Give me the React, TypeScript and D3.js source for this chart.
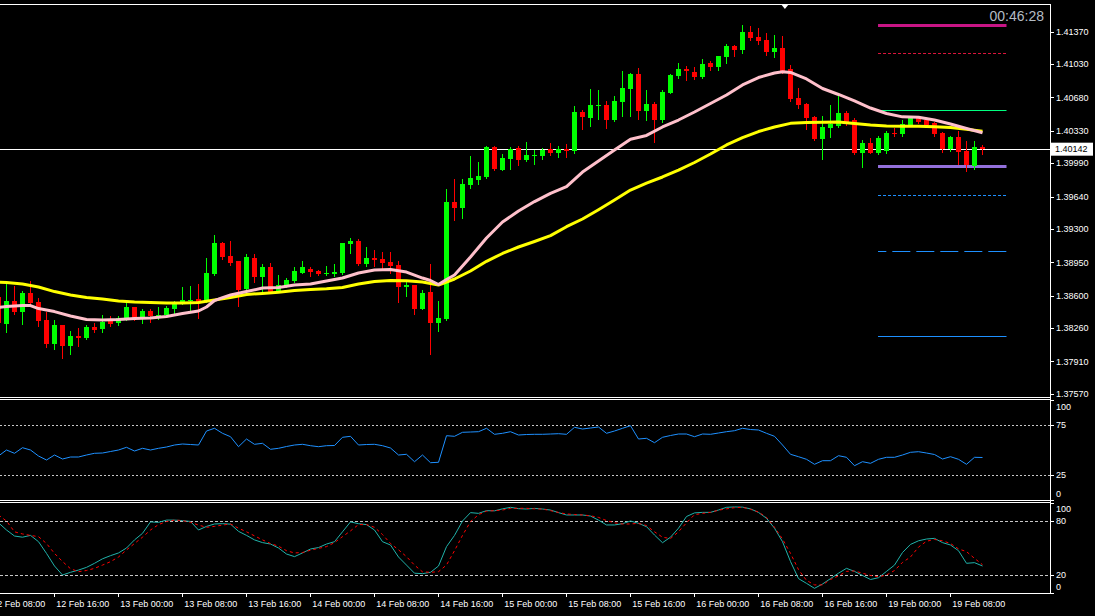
import React from "react";
import * as d3 from "d3";

// ---------- DATA ----------
const FIRST_BAR = -1; // index of first bar in the arrays (bar 0 = 12 Feb 10:00, H1)

const opens = [
  1.38584, 1.38301, 1.38543, 1.38427, 1.38627, 1.38532, 1.38343, 1.38091, 1.38291, 1.3807, 1.38175,
  1.38154, 1.3827, 1.38249, 1.38343, 1.38312, 1.38364, 1.3848, 1.38364, 1.38438, 1.3839, 1.38396,
  1.38459, 1.38532, 1.38543, 1.38564, 1.38543, 1.38826, 1.39152, 1.39015, 1.38963, 1.38669, 1.38994,
  1.38795, 1.389, 1.38648, 1.387, 1.38753, 1.38837, 1.38879, 1.38858, 1.38826, 1.38826, 1.38837,
  1.39141, 1.39173, 1.38931, 1.38994, 1.38984, 1.38952, 1.38921, 1.3869, 1.38711, 1.38459, 1.38637,
  1.38312, 1.38354, 1.39582, 1.39519, 1.39761, 1.39813, 1.39845, 1.4016, 1.39918, 1.40034, 1.40149,
  1.40023, 1.40065, 1.40065, 1.40139, 1.40097, 1.40139, 1.40118, 1.40527, 1.40464, 1.4059, 1.40601,
  1.40443, 1.40632, 1.40769, 1.40926, 1.40538, 1.40611, 1.40443, 1.40727, 1.40905, 1.40979, 1.40947,
  1.40895, 1.41042, 1.41, 1.41105, 1.4122, 1.41178, 1.41367, 1.41315, 1.41283, 1.41157, 1.41199,
  1.40979, 1.40674, 1.40611, 1.40475, 1.40244, 1.40359, 1.4038, 1.40517, 1.40443, 1.40097, 1.40202,
  1.40097, 1.40118, 1.40307, 1.40296, 1.40391, 1.40475, 1.40443, 1.40412, 1.40307, 1.40139, 1.40265,
  1.40118, 1.3996, 1.4016,
];
const highs = [
  1.38658, 1.38753, 1.387, 1.38648, 1.38753, 1.38574, 1.38427, 1.38343, 1.38296, 1.38228, 1.38259,
  1.38291, 1.38312, 1.38396, 1.38385, 1.38385, 1.38522, 1.38485, 1.38459, 1.38459, 1.3848, 1.3849,
  1.38543, 1.3869, 1.387, 1.38721, 1.38994, 1.39236, 1.39162, 1.39173, 1.38968, 1.39036, 1.39036,
  1.38931, 1.38942, 1.38816, 1.38784, 1.389, 1.38963, 1.389, 1.38868, 1.3891, 1.38931, 1.39155,
  1.39204, 1.39194, 1.3911, 1.39078, 1.39057, 1.39057, 1.38963, 1.38742, 1.38716, 1.38658, 1.38931,
  1.38543, 1.39719, 1.39824, 1.39824, 1.40065, 1.40002, 1.40165, 1.40165, 1.40086, 1.4016, 1.4017,
  1.40212, 1.40128, 1.40149, 1.40202, 1.4017, 1.40191, 1.4059, 1.40548, 1.40769, 1.40758, 1.40643,
  1.40695, 1.40958, 1.40937, 1.40989, 1.40758, 1.40632, 1.40758, 1.40921, 1.41042, 1.4101, 1.41,
  1.41084, 1.41063, 1.4112, 1.41241, 1.41231, 1.41441, 1.4143, 1.41409, 1.41357, 1.41336, 1.41325,
  1.41021, 1.40779, 1.40622, 1.40485, 1.40485, 1.40601, 1.40727, 1.40538, 1.40464, 1.40233, 1.40254,
  1.40275, 1.40328, 1.40359, 1.40443, 1.40475, 1.4048, 1.40448, 1.40422, 1.40312, 1.40275, 1.40328,
  1.40223, 1.40223, 1.40181,
];
const lows = [
  1.3828, 1.38217, 1.38406, 1.38301, 1.38501, 1.3828, 1.3806, 1.38039, 1.37944, 1.37986, 1.3807,
  1.38144, 1.38217, 1.38217, 1.3828, 1.38291, 1.38343, 1.38343, 1.38312, 1.38322, 1.38354, 1.38385,
  1.38417, 1.38511, 1.38427, 1.38364, 1.38532, 1.38816, 1.38984, 1.38921, 1.3849, 1.38664, 1.38742,
  1.38637, 1.38627, 1.38637, 1.3869, 1.38742, 1.38834, 1.38805, 1.38816, 1.38816, 1.38805, 1.38826,
  1.39047, 1.38921, 1.3891, 1.3891, 1.38868, 1.38837, 1.38532, 1.38595, 1.38406, 1.38454, 1.37986,
  1.38228, 1.38343, 1.39393, 1.39414, 1.39729, 1.39771, 1.39834, 1.39918, 1.39913, 1.39929, 1.39971,
  1.40013, 1.39981, 1.40034, 1.40076, 1.40055, 1.40055, 1.40097, 1.40349, 1.4038, 1.40454, 1.40359,
  1.40433, 1.40485, 1.40485, 1.40454, 1.40443, 1.40212, 1.40422, 1.40722, 1.40884, 1.40863, 1.40874,
  1.40884, 1.40968, 1.40968, 1.41042, 1.41115, 1.41147, 1.41283, 1.41241, 1.41126, 1.41105, 1.40937,
  1.40643, 1.40569, 1.40349, 1.40233, 1.40034, 1.40265, 1.4037, 1.40391, 1.40086, 1.3995, 1.40092,
  1.40086, 1.40097, 1.40275, 1.40275, 1.40386, 1.40412, 1.40386, 1.40275, 1.40107, 1.40118, 1.39981,
  1.39908, 1.39929, 1.40086,
];
const closes = [
  1.38312, 1.38543, 1.38427, 1.38627, 1.38522, 1.38333, 1.38091, 1.38291, 1.3807, 1.38175, 1.38154,
  1.3827, 1.38238, 1.38322, 1.38301, 1.38364, 1.3848, 1.38364, 1.38438, 1.38385, 1.38401, 1.38469,
  1.38511, 1.38553, 1.38558, 1.38532, 1.38837, 1.39152, 1.39005, 1.38942, 1.38658, 1.39005, 1.38795,
  1.389, 1.38637, 1.38711, 1.38763, 1.38858, 1.389, 1.38847, 1.38826, 1.38837, 1.38847, 1.39152,
  1.39173, 1.38931, 1.38994, 1.38973, 1.38942, 1.3891, 1.3869, 1.38711, 1.38459, 1.38627, 1.38312,
  1.38364, 1.39582, 1.39519, 1.39771, 1.39834, 1.39855, 1.4016, 1.39929, 1.40044, 1.40139, 1.40023,
  1.40076, 1.40076, 1.40128, 1.40097, 1.40139, 1.40118, 1.40527, 1.40475, 1.40601, 1.40601, 1.40443,
  1.40643, 1.40779, 1.40926, 1.40538, 1.40611, 1.40443, 1.40737, 1.40916, 1.40979, 1.40958, 1.40895,
  1.41031, 1.41, 1.41115, 1.4122, 1.41178, 1.41367, 1.41304, 1.41273, 1.41157, 1.41199, 1.40947,
  1.40664, 1.40601, 1.40464, 1.40244, 1.4037, 1.40401, 1.40517, 1.40422, 1.40097, 1.40202, 1.40097,
  1.40254, 1.40307, 1.40296, 1.40401, 1.40464, 1.40422, 1.40391, 1.40296, 1.40139, 1.40265, 1.40107,
  1.39971, 1.4016, 1.40142,
];

// moving averages: [bar index, price]
const pinkMA: [number, number][] = [
  [-1, 1.38476], [0, 1.38485], [2, 1.38495], [3, 1.38495], [4, 1.38464], [6, 1.38432], [8, 1.38385],
  [10, 1.38348], [12, 1.38343], [14, 1.38348], [16, 1.38359], [18, 1.38364], [20, 1.3838], [22, 1.38411],
  [24, 1.38438], [25, 1.3848], [26, 1.38548], [27, 1.38579], [28, 1.38606], [30, 1.38642], [32, 1.38679],
  [34, 1.38685], [36, 1.38711], [38, 1.38721], [40, 1.38753], [42, 1.38784], [44, 1.38837], [46, 1.38868],
  [48, 1.38873], [50, 1.38847], [52, 1.38784], [53, 1.38758], [54, 1.38716], [55, 1.38769], [56, 1.38816],
  [58, 1.39005], [60, 1.39204], [62, 1.39372], [64, 1.39488], [66, 1.39587], [68, 1.39673], [70, 1.39743],
  [72, 1.39897], [74, 1.40013], [76, 1.40128], [78, 1.40241], [80, 1.40281], [82, 1.4037], [84, 1.40443],
  [86, 1.40527], [88, 1.40616], [90, 1.40706], [92, 1.40811], [94, 1.40889], [96, 1.40937], [97, 1.4095],
  [98, 1.40942], [100, 1.40874], [102, 1.40774], [104, 1.40711], [106, 1.40643], [108, 1.40569],
  [110, 1.40511], [112, 1.40476], [114, 1.40472], [116, 1.40443], [118, 1.40401], [120, 1.40354],
  [122, 1.4031],
];
const yellowMA: [number, number][] = [
  [-1, 1.38739], [0, 1.38737], [2, 1.38721], [4, 1.3869], [6, 1.38642], [8, 1.38606], [10, 1.38579],
  [12, 1.38564], [14, 1.38543], [16, 1.38532], [18, 1.38527], [20, 1.38522], [22, 1.38522], [24, 1.38527],
  [26, 1.38553], [28, 1.38579], [30, 1.38611], [32, 1.38623], [34, 1.38634], [36, 1.38653], [38, 1.38663],
  [40, 1.38672], [42, 1.38685], [44, 1.38721], [46, 1.38748], [48, 1.38758], [50, 1.38756], [52, 1.38742],
  [54, 1.38711], [55, 1.38742], [56, 1.38774], [58, 1.38858], [60, 1.3896], [62, 1.39042], [64, 1.3911],
  [66, 1.39168], [68, 1.3923], [70, 1.39323], [72, 1.39404], [74, 1.39501], [76, 1.39603], [78, 1.39708],
  [80, 1.39781], [82, 1.39845], [84, 1.39918], [86, 1.39997], [88, 1.40086], [90, 1.40181], [92, 1.40259],
  [94, 1.40322], [96, 1.4037], [98, 1.40408], [100, 1.40417], [102, 1.40419], [104, 1.40422],
  [106, 1.40406], [108, 1.40391], [110, 1.4038], [112, 1.40377], [114, 1.40377], [116, 1.40373],
  [118, 1.40364], [120, 1.40345], [122, 1.40324],
];

const rsi = [
  44, 50, 46.7, 52.3, 50, 44, 40, 45, 41, 43, 43, 45, 46.7, 47, 48.5, 50, 52.7, 49, 51.7, 50, 51.7, 53,
  55, 56, 55.5, 55, 69, 71.7, 66.7, 63.3, 53.3, 61, 55.7, 56.7, 50.7, 51.7, 53.5, 55, 55.7, 54.3, 53.3,
  54.3, 54.5, 62.7, 63.7, 55, 55.5, 55.7, 54.3, 52, 45, 45.7, 38.3, 45, 37.3, 37.7, 64.3, 63.7, 67.7, 68,
  68.3, 71.7, 65.7, 66.7, 68.3, 65, 65.5, 65.7, 65.7, 66, 66.3, 65.7, 72.7, 71, 72, 73, 66.7, 69, 71.7,
  74.3, 61, 61.7, 57.3, 62.7, 64.5, 66, 66, 63.3, 66, 65.7, 67, 68.3, 69.3, 71.7, 70.5, 70, 66.7, 63.7,
  55, 45.7, 43.3, 40.7, 35.7, 39.3, 39.3, 44.3, 42.7, 34.3, 38.3, 36.7, 40.7, 42.7, 42.7, 45, 47.7, 48.3,
  47, 45.5, 41, 43.3, 40.7, 35.7, 42.7, 42.5,
];

const stochMain = [
  78, 70, 63.3, 62, 64, 57, 44, 30, 20, 23, 25.5, 28.5, 33, 38, 41.5, 44.5, 50, 59, 66.3, 79, 78.5, 81,
  81, 80.4, 79.5, 70, 74, 76.7, 77, 76.5, 68.5, 64, 59, 56, 54.4, 50, 43.3, 40.4, 44.5, 48.9, 50.5, 54.4,
  57, 68, 79, 77, 76, 70, 57, 53.3, 40, 31, 22, 21.5, 23, 30, 51.5, 64, 80, 89.3, 88.5, 91.5, 91.3, 93.5,
  95.2, 93.7, 93.3, 94, 93.3, 92.2, 89.3, 86.7, 86.7, 86.7, 85.5, 81, 75.6, 75.6, 77, 80, 77.4, 73.7,
  64.4, 55.9, 62, 72, 85, 89, 89.6, 89.6, 92.2, 95.2, 95.6, 95.4, 93.5, 89.5, 83, 72, 57, 35, 16, 10.7,
  5.2, 10, 16, 22, 27.4, 24, 19.5, 15, 17, 24, 31, 45, 54, 58, 60, 60.7, 56, 53.3, 47, 33, 33.7, 30,
];
const stochSignal = [
  86.7, 80, 68, 65.6, 64, 62.6, 55, 44, 35, 27, 23.7, 25, 27.4, 31, 34.8, 40, 47.8, 55, 62, 70, 76, 79.5,
  81, 80.5, 78.5, 75.5, 73, 74, 75.5, 76.7, 72, 68, 63.5, 59, 55, 52, 47, 44.5, 45, 47.5, 49.6, 51.5, 56,
  62.6, 69, 76, 76, 73, 65, 55, 48, 40.4, 31, 23.5, 23, 23.7, 31.1, 47, 64, 79.3, 87, 91, 91.5, 92.2, 94,
  94.1, 94.1, 93.5, 93.3, 91.5, 89.5, 87.8, 87.2, 86.7, 85.8, 84, 80.5, 78, 76.7, 76.7, 77.4, 75, 68, 62,
  60.5, 68, 78, 87, 88.5, 89.6, 92, 93.5, 94.8, 95.2, 93, 90, 84, 73, 60, 44, 26, 14, 9, 9, 15, 19, 24,
  24.5, 22, 19.5, 18, 20, 25, 34, 40, 51, 57.5, 59.5, 58, 55, 49, 46, 38.5, 31.5,
];

const priceTicks = [1.4137, 1.4103, 1.4068, 1.4033, 1.3999, 1.3964, 1.393, 1.3895, 1.386, 1.3826, 1.3791, 1.3757];
const timeTickBars = [-2, 6, 14, 22, 30, 38, 46, 54, 62, 70, 78, 86, 94, 102, 110, 118];
const timeTickLabels = [
  "12 Feb 08:00", "12 Feb 16:00", "13 Feb 00:00", "13 Feb 08:00", "13 Feb 16:00", "14 Feb 00:00",
  "14 Feb 08:00", "14 Feb 16:00", "15 Feb 00:00", "15 Feb 08:00", "15 Feb 16:00", "16 Feb 00:00",
  "16 Feb 08:00", "16 Feb 16:00", "19 Feb 00:00", "19 Feb 08:00",
];
const rsiLevels = [75, 25];
const rsiLabels = [100, 75, 25, 0];
const stochLevels = [80, 20];
const stochLabels = [100, 80, 20, 0];
const currentPrice = 1.40142;
const countdown = "00:46:28";
const levelPrices = [1.4144, 1.41147, 1.40548, 1.3996, 1.39652, 1.39068, 1.38175];
const levelBarRange = [108.94, 125];
const shiftMarkerBar = 97.3;

// ---------- STYLES ----------
const levelStyles = [
  { color: "#c71585", width: 3, dash: undefined as string | undefined },
  { color: "#dc143c", width: 1, dash: "3,2" },
  { color: "#00ff7f", width: 1, dash: undefined },
  { color: "#9370db", width: 3, dash: undefined },
  { color: "#1e90ff", width: 1, dash: "3,2" },
  { color: "#1e90ff", width: 1, dash: "18,6" },
  { color: "#1e90ff", width: 1, dash: undefined },
];
const FONT = "'Liberation Sans', Arial, sans-serif";
const BULL = "#00ff00";
const BEAR = "#ff0000";

export default function App() {
  const W = 1095;
  const H = 616;
  const axisX = 1050.5;

  const x = d3.scaleLinear().domain([0, 122]).range([6.5, 982.5]);
  const y = d3.scaleLinear().domain([1.3757, 1.4137]).range([393.7, 31.7]);
  const yR = d3.scaleLinear().domain([0, 100]).range([500, 400]);
  const yS = d3.scaleLinear().domain([0, 100]).range([593, 503]);

  const maLine = d3
    .line<[number, number]>()
    .x((d) => x(d[0]))
    .y((d) => y(d[1]));
  const rsiLine = d3
    .line<number>()
    .x((_, i) => x(i + FIRST_BAR))
    .y((d) => yR(d));
  const stLine = d3
    .line<number>()
    .x((_, i) => x(i + FIRST_BAR))
    .y((d) => yS(d));

  const bars = opens.map((o, i) => ({
    k: i + FIRST_BAR,
    o,
    h: highs[i],
    l: lows[i],
    c: closes[i],
  }));

  const txt = { fill: "#ffffff", fontFamily: FONT, fontSize: 9 } as const;

  return (
    <div>
      <style>{`html,body{margin:0;padding:0;background:#000;}`}</style>
      <svg width={W} height={H} style={{ display: "block", background: "#000" }}>
        <defs>
          <clipPath id="mainClip">
            <rect x={0} y={5} width={1050} height={392} />
          </clipPath>
          <clipPath id="rsiClip">
            <rect x={0} y={400} width={1050} height={100} />
          </clipPath>
          <clipPath id="stClip">
            <rect x={0} y={503} width={1050} height={90} />
          </clipPath>
        </defs>

        {/* ---- main panel ---- */}
        <g clipPath="url(#mainClip)">
          {levelPrices.map((p, i) => {
            const st = levelStyles[i];
            const yy = Math.round(y(p)) + (st.width % 2 ? 0.5 : 0);
            return (
              <line
                key={"lv" + i}
                x1={x(levelBarRange[0])}
                x2={x(levelBarRange[1])}
                y1={yy}
                y2={yy}
                stroke={st.color}
                strokeWidth={st.width}
                strokeDasharray={st.dash}
                strokeDashoffset={st.dash === "18,6" ? 9.7 : 0}
              />
            );
          })}
          <line
            x1={0}
            x2={1050}
            y1={Math.round(y(currentPrice)) + 0.5}
            y2={Math.round(y(currentPrice)) + 0.5}
            stroke="#ffffff"
            strokeWidth={1}
          />
          {bars.map((b) => {
            const cx = x(b.k);
            const col = b.c >= b.o ? BULL : BEAR;
            const top = Math.round(y(Math.max(b.o, b.c)));
            const bot = Math.round(y(Math.min(b.o, b.c)));
            return (
              <g key={"b" + b.k} shapeRendering="crispEdges">
                <line x1={cx} x2={cx} y1={Math.round(y(b.h))} y2={Math.round(y(b.l)) + 1} stroke={col} strokeWidth={1} />
                <rect x={cx - 2.5} y={top} width={5} height={Math.max(1, bot - top)} fill={col} />
              </g>
            );
          })}
          <path d={maLine(yellowMA) || ""} fill="none" stroke="#ffff00" strokeWidth={3} strokeLinejoin="round" />
          <path d={maLine(pinkMA) || ""} fill="none" stroke="#ffc0cb" strokeWidth={3} strokeLinejoin="round" />
        </g>

        <path
          d={`M${x(shiftMarkerBar) - 4},4 L${x(shiftMarkerBar) + 4},4 L${x(shiftMarkerBar)},9 Z`}
          fill="#ffffff"
        />

        <text x={1044} y={21} textAnchor="end" fill="#b4bcc4" fontFamily={FONT} fontSize={14}>
          {countdown}
        </text>

        {priceTicks.map((p) => (
          <g key={"pt" + p}>
            <line x1={axisX} x2={axisX + 3.5} y1={Math.round(y(p)) + 0.5} y2={Math.round(y(p)) + 0.5} stroke="#fff" />
            <text x={1056} y={y(p) + 3.3} {...txt}>
              {p.toFixed(5)}
            </text>
          </g>
        ))}
        <rect x={1051} y={y(currentPrice) - 6} width={42} height={13} fill="#ffffff" />
        <text x={1055} y={y(currentPrice) + 3.6} fill="#000" fontFamily={FONT} fontSize={9}>
          {currentPrice.toFixed(5)}
        </text>

        {/* ---- RSI panel ---- */}
        {rsiLevels.map((v) => (
          <line
            key={"rl" + v}
            x1={0}
            x2={1050}
            y1={Math.round(yR(v)) + 0.5}
            y2={Math.round(yR(v)) + 0.5}
            stroke="#c8c8c8"
            strokeDasharray="2,2"
          />
        ))}
        <g clipPath="url(#rsiClip)">
          <path d={rsiLine(rsi) || ""} fill="none" stroke="#1e90ff" strokeWidth={1} />
        </g>
        {rsiLabels.map((v) => {
          const yy = Math.min(Math.max(yR(v), 407), 494);
          return (
            <g key={"rlb" + v}>
              <line x1={axisX} x2={axisX + 3.5} y1={Math.round(yR(v)) + 0.5} y2={Math.round(yR(v)) + 0.5} stroke="#fff" />
              <text x={1056} y={yy + 3.3} {...txt}>
                {v}
              </text>
            </g>
          );
        })}

        {/* ---- Stochastic panel ---- */}
        {stochLevels.map((v) => (
          <line
            key={"sl" + v}
            x1={0}
            x2={1050}
            y1={Math.round(yS(v)) + 0.5}
            y2={Math.round(yS(v)) + 0.5}
            stroke="#c8c8c8"
            strokeDasharray="3,2"
          />
        ))}
        <g clipPath="url(#stClip)">
          <path d={stLine(stochMain) || ""} fill="none" stroke="#20b2aa" strokeWidth={1} />
          <path d={stLine(stochSignal) || ""} fill="none" stroke="#ff0000" strokeWidth={1} strokeDasharray="3,3" />
        </g>
        {stochLabels.map((v) => {
          const yy = Math.min(Math.max(yS(v), 509), 587);
          return (
            <g key={"slb" + v}>
              <line x1={axisX} x2={axisX + 3.5} y1={Math.round(yS(v)) + 0.5} y2={Math.round(yS(v)) + 0.5} stroke="#fff" />
              <text x={1056} y={yy + 3.3} {...txt}>
                {v}
              </text>
            </g>
          );
        })}

        {/* ---- frames ---- */}
        <g stroke="#ffffff" strokeWidth={1} shapeRendering="crispEdges">
          <line x1={0} x2={axisX} y1={4.5} y2={4.5} />
          <line x1={0} x2={axisX} y1={397.5} y2={397.5} />
          <line x1={0} x2={axisX} y1={399.5} y2={399.5} />
          <line x1={0} x2={axisX} y1={500.5} y2={500.5} />
          <line x1={0} x2={axisX} y1={502.5} y2={502.5} />
          <line x1={0} x2={axisX} y1={593.5} y2={593.5} />
          <line x1={axisX} x2={axisX} y1={4.5} y2={593.5} />
        </g>

        {/* ---- time axis ---- */}
        {timeTickBars.map((b, i) => (
          <g key={"tt" + b}>
            <line x1={x(b)} x2={x(b)} y1={593.5} y2={597} stroke="#fff" shapeRendering="crispEdges" />
            <text x={x(b) + 1.8} y={607} {...txt}>
              {timeTickLabels[i]}
            </text>
          </g>
        ))}
      </svg>
    </div>
  );
}
